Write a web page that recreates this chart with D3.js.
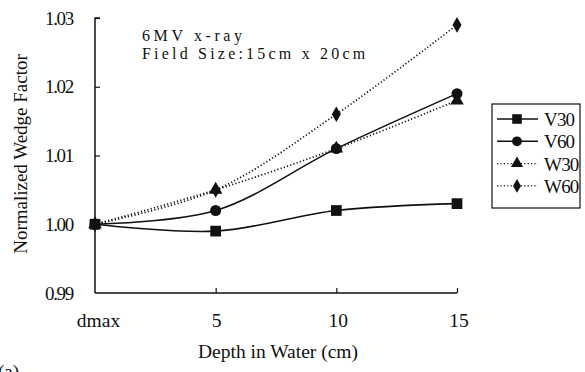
<!DOCTYPE html>
<html><head><meta charset="utf-8">
<script src="https://cdn.jsdelivr.net/npm/d3@7"></script>
<style>body{margin:0;background:#fff}svg{display:block}text{font-family:"Liberation Serif","DejaVu Serif",serif;fill:#111}</style>
</head><body><svg id="c" width="585" height="372"></svg>
<script>
const categories = ["dmax", "5", "10", "15"];
const yTicks = [0.99, 1.00, 1.01, 1.02, 1.03];
const yTickLabels = ["0.99", "1.00", "1.01", "1.02", "1.03"];
const seriesNames = ["V30", "V60", "W30", "W60"];
const V30 = [1.000, 0.999, 1.002, 1.003];
const V60 = [1.000, 1.002, 1.011, 1.019];
const W30 = [1.000, 1.005, 1.011, 1.018];
const W60 = [1.000, 1.005, 1.016, 1.029];

const series = [
  {name: "V30", values: V30, dash: null, sym: d3.symbolSquare, size: 115},
  {name: "V60", values: V60, dash: null, sym: d3.symbolCircle, size: 95},
  {name: "W30", values: W30, dash: "1.2,2.2", sym: d3.symbolTriangle, size: 80},
  {name: "W60", values: W60, dash: "1.2,2.2", sym: d3.symbolDiamond, size: 70}
];

const svg = d3.select("#c");
const L = 95, R = 457, T = 18, B = 293;
const x = d3.scalePoint().domain(categories).range([L, R]);
const y = d3.scaleLinear().domain([0.99, 1.03]).range([B, T]);

// axes
const gy = svg.append("g").attr("transform", `translate(${L},0)`)
  .call(d3.axisRight(y).tickValues(yTicks.slice(1)).tickSize(5).tickFormat(""));
gy.select(".domain").attr("d", `M5,${T}H0V${B}`).attr("stroke", "#111").attr("stroke-width", 1.5);
gy.selectAll(".tick line").attr("stroke", "#111").attr("stroke-width", 1.2);

const gx = svg.append("g").attr("transform", `translate(0,${B})`)
  .call(d3.axisTop(x).tickValues(categories.slice(1)).tickSize(5).tickFormat(""));
gx.select(".domain").attr("d", `M${L},0H${R}`).attr("stroke", "#111").attr("stroke-width", 1.5);
gx.selectAll(".tick line").attr("stroke", "#111").attr("stroke-width", 1.2);

// tick labels
svg.append("g").selectAll("text").data(yTicks).join("text")
  .attr("x", 73).attr("y", d => y(d) + 6.5).attr("text-anchor", "end")
  .attr("font-size", 19).attr("letter-spacing", -1.3).text((d, i) => yTickLabels[i]);
svg.append("g").selectAll("text").data(categories).join("text")
  .attr("x", d => x(d) + (d === "dmax" ? 3.5 : d === "5" ? 1 : 2)).attr("y", 327).attr("text-anchor", "middle")
  .attr("font-size", 19.5).text(d => d);

svg.append("text").attr("x", 278).attr("y", 358).attr("text-anchor", "middle")
  .attr("font-size", 19.5).text("Depth in Water (cm)");
svg.append("text").attr("transform", "translate(27,154) rotate(-90)").attr("text-anchor", "middle")
  .attr("font-size", 19).text("Normalized Wedge Factor");

// annotation
svg.append("text").attr("x", 142).attr("y", 41).attr("font-size", 16).attr("letter-spacing", 3.6).text("6MV x-ray");
svg.append("text").attr("x", 142).attr("y", 59).attr("font-size", 16).attr("letter-spacing", 3.2).text("Field Size:15cm x 20cm");

// partial label (cut off at the bottom edge, as in the reference)
svg.append("text").attr("x", -2).attr("y", 378).attr("font-size", 19).text("(a)");

// lines
const line = d3.line().x((d, i) => x(categories[i])).y(d => y(d)).curve(d3.curveCatmullRom.alpha(0.5));
series.forEach(s => {
  svg.append("path").attr("d", line(s.values)).attr("fill", "none").attr("stroke", "#111")
    .attr("stroke-width", s.dash ? 1.7 : 1.6).attr("stroke-dasharray", s.dash);
});
series.forEach(s => {
  svg.append("g").selectAll("path").data(s.values).join("path")
    .attr("transform", (d, i) => `translate(${x(categories[i])},${y(d)})`)
    .attr("d", d3.symbol(s.sym, s.size)).attr("fill", "#111");
});

// legend
const lg = svg.append("g");
lg.append("rect").attr("x", 492).attr("y", 104).attr("width", 88).attr("height", 104)
  .attr("fill", "#fff").attr("stroke", "#111").attr("stroke-width", 1.2);
series.forEach((s, i) => {
  const yy = 119 + i * 22.3;
  lg.append("line").attr("x1", 497).attr("x2", 538).attr("y1", yy).attr("y2", yy)
    .attr("stroke", "#111").attr("stroke-width", s.dash ? 1.4 : 1.5).attr("stroke-dasharray", s.dash);
  lg.append("path").attr("transform", `translate(517,${yy})`).attr("d", d3.symbol(s.sym, s.size * 0.8)).attr("fill", "#111");
  lg.append("text").attr("x", 544).attr("y", yy + 7).attr("font-size", 19).attr("letter-spacing", -0.8).text(seriesNames[i]);
});
</script></body></html>
